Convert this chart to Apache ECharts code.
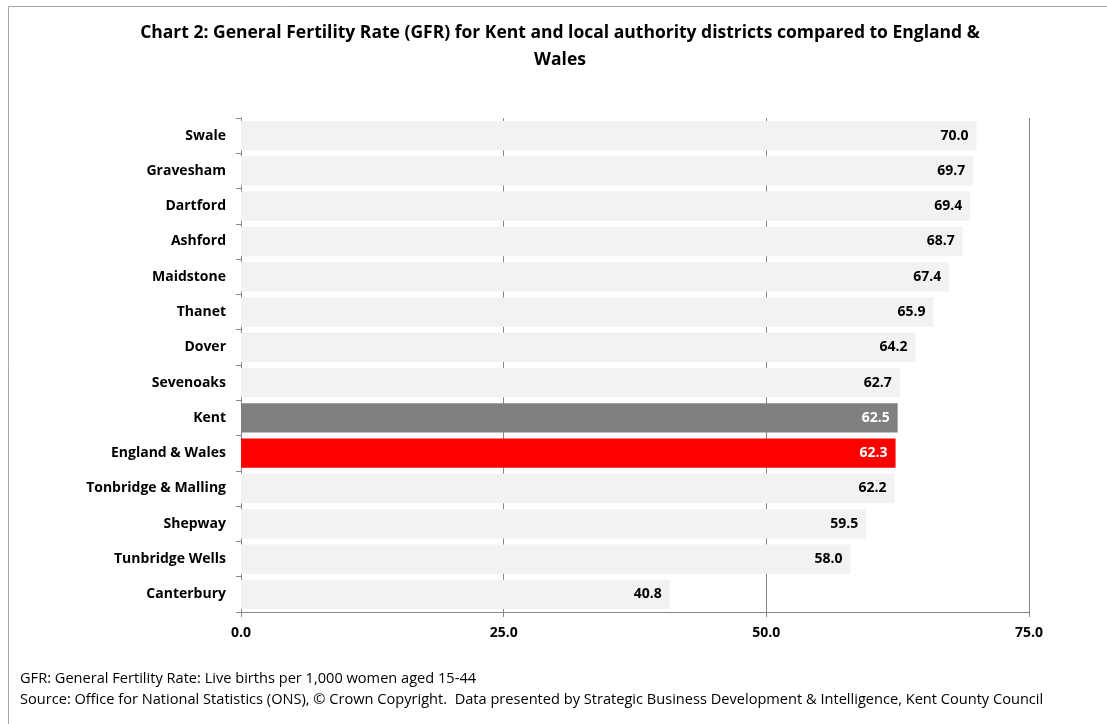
<!DOCTYPE html>
<html>
<head>
<meta charset="utf-8">
<title>General Fertility Rate (GFR) – Kent</title>
<script src="https://cdn.jsdelivr.net/npm/echarts@6/dist/echarts.min.js"></script>
<style>
  html, body { margin: 0; padding: 0; background: #fff; }
  #chart { width: 1107px; height: 724px; }
</style>
</head>
<body>
<div id="chart"></div>
<script>
// Districts, ordered top to bottom
const categories = [
  'Swale', 'Gravesham', 'Dartford', 'Ashford', 'Maidstone', 'Thanet', 'Dover',
  'Sevenoaks', 'Kent', 'England & Wales', 'Tonbridge & Malling', 'Shepway',
  'Tunbridge Wells', 'Canterbury'
];
// GFR: live births per 1,000 women aged 15-44
const gfrValues = [70.0, 69.7, 69.4, 68.7, 67.4, 65.9, 64.2, 62.7, 62.5, 62.3, 62.2, 59.5, 58.0, 40.8];
// Value axis ticks
const axisTicks = [0, 25, 50, 75];

const FONT = '"Open Sans", Lato, sans-serif';
const highlight = {
  'Kent': { bar: '#808080', text: '#ffffff' },
  'England & Wales': { bar: '#ff0000', text: '#ffffff' }
};

const barData = gfrValues.map((v, i) => {
  const h = highlight[categories[i]];
  return {
    value: v,
    itemStyle: { color: h ? h.bar : '#f2f2f2' },
    label: { color: h ? h.text : '#000000' }
  };
});

const chart = echarts.init(document.getElementById('chart'), null, { renderer: 'canvas' });
chart.setOption({
  animation: false,
  backgroundColor: '#ffffff',
  textStyle: { fontFamily: FONT },
  title: {
    text: 'Chart 2: General Fertility Rate (GFR) for Kent and local authority districts compared to England &\nWales',
    left: 555,
    textAlign: 'center',
    top: 15,
    textStyle: { fontFamily: FONT, fontSize: 17.5, fontWeight: 'bold', color: '#000', lineHeight: 27 }
  },
  graphic: [
    {
      type: 'rect', silent: true, z: -1,
      shape: { x: 8.5, y: 6.5, width: 1200, height: 800 },
      style: { fill: null, stroke: '#a6a6a6', lineWidth: 1 }
    },
    {
      type: 'text', left: 20, top: 668,
      style: {
        text: 'GFR: General Fertility Rate: Live births per 1,000 women aged 15-44\nSource: Office for National Statistics (ONS), \u00a9 Crown Copyright.  Data presented by Strategic Business Development & Intelligence, Kent County Council',
        font: '14.6px ' + FONT, fill: '#000', lineHeight: 21
      }
    }
  ],
  grid: { left: 241, right: 78, top: 118, height: 494, containLabel: false },
  xAxis: {
    type: 'value',
    min: axisTicks[0],
    max: axisTicks[axisTicks.length - 1],
    interval: axisTicks[1] - axisTicks[0],
    axisLine: { show: true, lineStyle: { color: '#868686', width: 1 } },
    axisTick: { show: true, length: 5, lineStyle: { color: '#868686' } },
    splitLine: { show: true, lineStyle: { color: '#868686', width: 1 } },
    axisLabel: {
      margin: 14, fontFamily: FONT, fontSize: 14, fontWeight: 'bold', color: '#000',
      formatter: v => v.toFixed(1)
    }
  },
  yAxis: {
    type: 'category',
    data: categories,
    inverse: true,
    axisLine: { show: true, lineStyle: { color: '#868686', width: 1 } },
    axisTick: { show: true, length: 5, alignWithLabel: false, lineStyle: { color: '#868686' } },
    axisLabel: { margin: 15, fontFamily: FONT, fontSize: 14, fontWeight: 'bold', color: '#000' },
    splitLine: { show: false }
  },
  series: [{
    type: 'bar',
    data: barData,
    barCategoryGap: '17%',
    label: {
      show: true,
      position: 'insideRight',
      distance: 8,
      fontFamily: FONT, fontSize: 14, fontWeight: 'bold',
      formatter: p => p.value.toFixed(1)
    }
  }]
});
</script>
</body>
</html>
